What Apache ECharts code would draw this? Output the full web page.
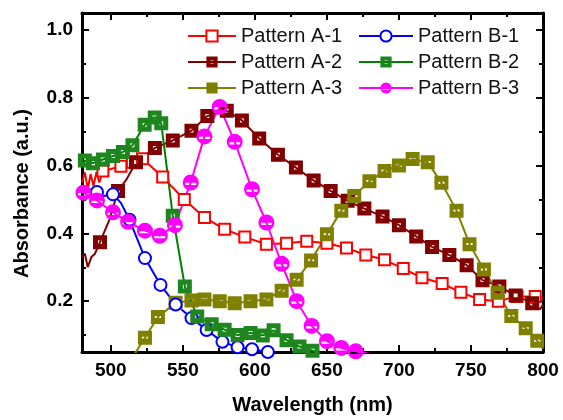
<!DOCTYPE html>
<html>
<head>
<meta charset="utf-8">
<script src="https://cdn.jsdelivr.net/npm/echarts@6/dist/echarts.min.js"></script>
<style>
html,body{margin:0;padding:0;background:#fff;}
#chart{width:563px;height:420px;}
</style>
</head>
<body>
<div id="chart"></div>
<script>
// ---- data (wavelength nm, absorbance a.u.) ----
const seriesNames = ['Pattern A-1','Pattern A-2','Pattern A-3','Pattern B-1','Pattern B-2','Pattern B-3'];
const xTickLabels = [500,550,600,650,700,750,800];
const yTickLabels = [0.2,0.4,0.6,0.8,1.0];

// points drawn with a marker
const patternA1 = [[494.5,0.584],[507,0.598],[515,0.61],[522,0.62],[536,0.566],[551,0.5],[565,0.447],[579,0.412],[593,0.389],[608,0.368],[622,0.371],[636,0.377],[650,0.371],[663.6,0.357],[677,0.336],[690,0.322],[703,0.296],[716,0.269],[730,0.252],[743,0.226],[756,0.205],[769,0.2],[782,0.214],[794.6,0.214]];
// noisy points without a marker
const patternA1Plain = [[480,0.55],[482,0.58],[484,0.53],[486,0.575],[488,0.54],[490,0.58],[492,0.55],[500,0.59],[800,0.21]];

const patternA2 = [[492.5,0.374],[505,0.525],[517.5,0.61],[530.6,0.652],[543,0.674],[556,0.703],[567,0.746],[580.5,0.762],[591,0.733],[603,0.68],[616,0.632],[628.5,0.594],[640.8,0.556],[652.6,0.525],[664.4,0.496],[676,0.473],[688.6,0.45],[700,0.424],[712,0.391],[723,0.36],[735,0.336],[747,0.306],[758,0.262],[769.7,0.243],[781,0.217],[792.5,0.194]];
const patternA2Plain = [[480,0.33],[482,0.34],[484,0.3],[486.5,0.33],[489,0.34],[499,0.44],[511,0.56],[798,0.176],[800,0.19]];

const patternA3 = [[523.7,0.092],[532.7,0.153],[545,0.195],[556,0.202],[565,0.205],[575.6,0.2],[586,0.194],[597,0.2],[608,0.205],[618.6,0.231],[629,0.263],[639,0.32],[650,0.397],[660,0.467],[669,0.51],[679.5,0.554],[690,0.584],[700,0.6],[709.5,0.619],[720,0.61],[729.5,0.549],[740,0.467],[749,0.368],[759,0.293],[768.5,0.225],[778,0.156],[788,0.12],[796,0.083]];
const patternA3Plain = [[510,0.0],[800,0.06]];

const patternB1 = [[490.4,0.522],[501.5,0.515],[513,0.44],[523.7,0.327],[534.5,0.248],[545,0.19],[556,0.15],[566.5,0.115],[577.5,0.08],[588,0.064],[598,0.058],[609,0.05]];
const patternB1Plain = [[480,0.54],[482,0.52],[485,0.53],[495,0.51],[507,0.49],[625,0.03]];

const patternB2 = [[482,0.615],[487.6,0.607],[494.5,0.618],[501.5,0.628],[508.4,0.64],[515,0.66],[523.5,0.72],[530.5,0.742],[535,0.725],[543,0.452],[551.4,0.243],[560,0.155],[570,0.132],[579,0.116],[588,0.1],[597,0.106],[605.5,0.099],[613,0.114],[622,0.085],[631,0.066],[640,0.054]];
const patternB2Plain = [[480,0.6],[655,0.03]];

const patternB3 = [[481,0.52],[490.4,0.497],[501.5,0.462],[512,0.434],[523.7,0.408],[534,0.393],[544.5,0.424],[555.5,0.55],[565,0.686],[575.6,0.773],[586,0.67],[598,0.53],[608,0.432],[618.6,0.31],[629,0.2],[639.4,0.127],[650,0.082],[660,0.062],[670,0.052]];
const patternB3Plain = [[480,0.53],[685,0.04]];

// ---- build ----
function build(marked, plain){
  const all = marked.map(p=>({value:p})).concat(plain.map(p=>({value:p, symbol:'none'})));
  all.sort((a,b)=>a.value[0]-b.value[0]);
  return all;
}
const FONT = 'Liberation Sans, Arial, sans-serif';
// marker shapes (square / circle with a small white hole, like Origin's patterned markers)
const SQ_DOT = 'path://M0,0L10,0L10,10L0,10ZM3.6,3.6L3.6,6.4L6.4,6.4L6.4,3.6Z';
const SQ_DASH = 'path://M0,0L10,0L10,10L0,10ZM2.8,4.2L2.8,5.6L7.2,5.6L7.2,4.2Z';
const CIRC_BAR = 'path://M0,5A5,5 0 1,1 10,5A5,5 0 1,1 0,5ZM1.6,5.2L1.6,6.6L8.4,6.6L8.4,5.2Z';
const styles = [
  {color:'#ff0000', symbol:'emptyRect', size:11, fill:'#ff0000', bw:2},
  {color:'#800000', symbol:SQ_DOT, size:14, fill:'#800000', bw:0},
  {color:'#808000', symbol:SQ_DASH, size:14, fill:'#808000', bw:0},
  {color:'#0000ff', symbol:'emptyCircle', size:12, fill:'#0000ff', bw:2},
  {color:'#008000', symbol:SQ_DOT, size:14, fill:'#1f861f', bw:0},
  {color:'#ff00ff', symbol:CIRC_BAR, size:16, fill:'#ff00ff', bw:0}
];
const datasets = [
  build(patternA1, patternA1Plain),
  build(patternA2, patternA2Plain),
  build(patternA3, patternA3Plain),
  build(patternB1, patternB1Plain),
  build(patternB2, patternB2Plain),
  build(patternB3, patternB3Plain)
];
const series = seriesNames.map((name,i)=>({
  name: name,
  type: 'line',
  xAxisIndex: 0,
  yAxisIndex: 0,
  data: datasets[i],
  symbol: styles[i].symbol,
  symbolSize: styles[i].size,
  showAllSymbol: true,
  clip: true,
  lineStyle: {color: styles[i].color, width: 2},
  itemStyle: {color: styles[i].fill, borderColor: styles[i].color, borderWidth: styles[i].bw},
  emphasis: {disabled: true},
  animation: false
}));

const axisCommon = {
  axisLine: {show: true, onZero: false, lineStyle: {color: '#000', width: 3}},
  axisTick: {show: true, inside: true, length: 7, lineStyle: {color: '#000', width: 2}},
  minorTick: {show: true, splitNumber: 2, length: 4, lineStyle: {color: '#000', width: 2}},
  splitLine: {show: false},
  minorSplitLine: {show: false}
};
const labelStyle = {color: '#000', fontSize: 19, fontWeight: 'bold', fontFamily: FONT};

const option = {
  animation: false,
  backgroundColor: '#fff',
  grid: {left: 82, right: 20, top: 13, bottom: 64, containLabel: false},
  legend: [
    {
      data: seriesNames.slice(0,3),
      orient: 'vertical', left: 182, top: 21,
      itemWidth: 48, itemHeight: 14, itemGap: 6,
      textStyle: {fontSize: 20, color: '#111', fontFamily: FONT},
      selectedMode: false
    },
    {
      data: seriesNames.slice(3,6),
      orient: 'vertical', left: 353, top: 21,
      itemWidth: 54, itemHeight: 14, itemGap: 6,
      textStyle: {fontSize: 20, color: '#111', fontFamily: FONT},
      selectedMode: false
    }
  ],
  xAxis: [
    Object.assign({}, axisCommon, {
      type: 'value', position: 'bottom', min: 480, max: 800, splitNumber: 6,
      name: 'Wavelength (nm)', nameLocation: 'middle', nameGap: 43,
      nameTextStyle: {color: '#000', fontSize: 20, fontWeight: 'bold', fontFamily: FONT},
      axisLabel: Object.assign({}, labelStyle, {margin: 9, showMinLabel: false,
        formatter: v => xTickLabels.indexOf(v) >= 0 ? String(v) : ''})
    }),
    Object.assign({}, axisCommon, {
      type: 'value', position: 'top', min: 480, max: 800, splitNumber: 6,
      axisLabel: {show: false}
    })
  ],
  yAxis: [
    Object.assign({}, axisCommon, {
      type: 'value', position: 'left', min: 0.05, max: 1.05, splitNumber: 5,
      name: 'Absorbance (a.u.)', nameLocation: 'middle', nameGap: 50, nameRotate: 90,
      nameTextStyle: {color: '#000', fontSize: 20, fontWeight: 'bold', fontFamily: FONT, padding: [0, 22, 0, 0]},
      axisLabel: Object.assign({}, labelStyle, {margin: 9, showMinLabel: false, showMaxLabel: false,
        formatter: v => yTickLabels.some(t => Math.abs(t - v) < 1e-6) ? v.toFixed(1) : ''})
    }),
    Object.assign({}, axisCommon, {
      type: 'value', position: 'right', min: 0.05, max: 1.05, splitNumber: 5,
      axisLabel: {show: false}
    })
  ],
  series: series
};
const chart = echarts.init(document.getElementById('chart'), null, {renderer: 'canvas'});
chart.setOption(option);
</script>
</body>
</html>
